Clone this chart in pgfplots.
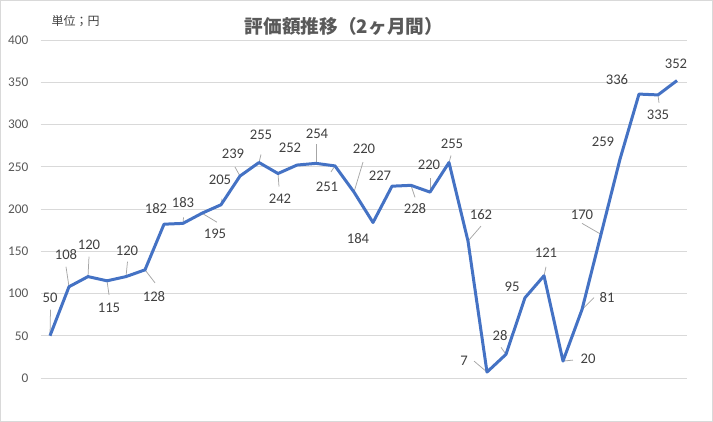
\documentclass[border=0pt]{standalone}
\usepackage{fontspec}
\setmainfont{Carlito}
\newfontfamily\cjk{Noto Sans CJK JP}
\usepackage{pgfplots}
\usepackage{pgfplotstable}
\pgfplotsset{compat=1.18}

\definecolor{lineblue}{HTML}{4472C4}
\definecolor{gridgray}{HTML}{D9D9D9}
\definecolor{tickgray}{HTML}{595959}
\definecolor{labgray}{HTML}{404040}
\definecolor{leadgray}{HTML}{A6A6A6}

% x, value, label offset (ux right, uy up, bp), leader vector (lx, ly, bp)
\pgfplotstableread{
x y ux uy lx ly
0 50 0 38 0.5 26
1 108 -3 32 -3 20
2 120 1 32 1 20
3 115 2 -27 2 -14
4 120 1 26 1.5 15
5 128 9 -27 10 -13
6 182 -8 16 0 0
7 183 0 21 0.5 6
8 195 13 -21 15 -9
9 205 -1 25 1 6
10 239 -7 22 -5 9
11 255 2 28 2 8
12 242 2 -25 1 -13
13 252 -7 17 0 0
14 254 1 30 0 19
15 251 -8 -21 -4 -6
16 220 10 43 9 30
17 184 -15 -16 0 0
18 227 -12 10 0 0
19 228 4 -23 4 -12
20 220 -1 27 0 14
21 255 3 19 2 7
22 162 13 27 13 15
23 7 -23 11 -13 11
24 28 -6 19 -5 7
25 95 -13 11 0 0
26 121 2 23 2 9
27 20 25 2 10 1
28 81 25 12 12 12
29 170 -19 20 -19 11
30 259 -17 17 0 0
31 336 -22 14 0 0
32 335 0 -20 1 -8
33 352 -1 17 0 0
}\datatable

\begin{document}
\begin{tikzpicture}
\useasboundingbox (0,0) rectangle (713bp,422bp);
\begin{axis}[
    at={(40.5bp,44bp)}, anchor=south west,
    scale only axis,
    width=646bp, height=338bp,
    xmin=-0.5, xmax=33.5,
    ymin=0, ymax=400,
    ytick={0,50,...,400},
    xtick=\empty,
    ymajorgrids,
    grid style={draw=gridgray, line width=0.75bp},
    axis line style={draw=none},
    major tick length=0pt,
    /pgf/number format/assume math mode=true,
    yticklabel style={font=\fontsize{13.3bp}{16bp}\selectfont, text=tickgray,
        anchor=east, inner sep=0pt, xshift=-12bp},
    clip=false,
]
\addplot[draw=leadgray, line width=0.75bp, mark=none,
    quiver={u=\thisrow{lx}/19, v=\thisrow{ly}/0.845}]
    table[x=x, y=y] {\datatable};

\addplot[color=lineblue, line width=3bp, mark=none, line join=round,
    point meta=explicit symbolic,
    visualization depends on={\thisrow{ux} \as \ldx},
    visualization depends on={\thisrow{uy} \as \ldy},
    nodes near coords,
    nodes near coords style={font=\fontsize{14.67bp}{17bp}\selectfont,
        text=labgray, anchor=center, inner sep=0pt,
        xshift=\ldx bp, yshift=\ldy bp}]
    table[x=x, y=y, meta=y] {\datatable};
\end{axis}

\node[font=\cjk\bfseries\fontsize{18.67bp}{22bp}\selectfont, text=tickgray]
    at (344bp,396bp) {評価額推移（2ヶ月間）};
\node[anchor=west, font=\cjk\fontsize{12bp}{14bp}\selectfont, text=labgray]
    at (48bp,401bp) {単位；円};
\draw[gridgray, line width=1bp] (0.5bp,0.5bp) rectangle (712.5bp,421.5bp);
\end{tikzpicture}
\end{document}
